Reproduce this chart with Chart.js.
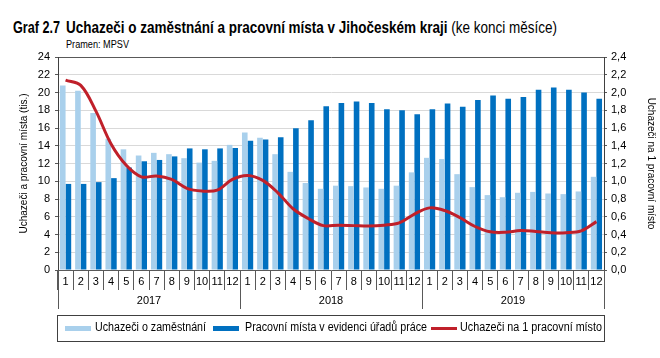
<!DOCTYPE html>
<html><head><meta charset="utf-8">
<script src="https://cdn.jsdelivr.net/npm/chart.js@4"></script>
<style>
html,body{margin:0;padding:0;background:#fff;}
body{width:660px;height:358px;position:relative;overflow:hidden;font-family:'Liberation Sans',Arial,sans-serif;}
#c{position:absolute;left:0;top:0;}
.t{position:absolute;white-space:nowrap;color:#000;line-height:1;transform-origin:0 0;}
#legend{position:absolute;left:57px;top:315px;width:548px;height:27px;border:1px solid #404040;box-sizing:border-box;}
.sw{position:absolute;}
</style></head><body>
<div class="t" id="t1" data-w="47" style="left:13px;top:20px;font-size:16px;"><b>Graf 2.7</b></div>
<div class="t" id="t2" data-w="491" style="left:66px;top:20px;font-size:16px;"><b>Uchazeči o zaměstnání a pracovní místa v Jihočeském kraji</b> (ke konci měsíce)</div>
<div class="t" id="t3" data-w="63" style="left:66px;top:38.5px;font-size:10.5px;">Pramen: MPSV</div>
<canvas id="c" width="660" height="358"></canvas>
<div class="sw" style="left:65px;top:326px;width:26px;height:5px;background:#a9d0ec;"></div>
<div class="t" data-w="111" style="left:95px;top:321px;font-size:12px;">Uchazeči o zaměstnání</div>
<div class="sw" style="left:213px;top:326px;width:26px;height:5px;background:#0070c0;"></div>
<div class="t" data-w="182" style="left:244.5px;top:321px;font-size:12px;">Pracovní místa v evidenci úřadů práce</div>
<div class="sw" style="left:431px;top:327px;width:26px;height:3px;background:#c0202a;"></div>
<div class="t" data-w="142" style="left:460px;top:321px;font-size:12px;">Uchazeči na 1 pracovní místo</div>
<div id="legend"></div>
<script>
const years = ['2017','2018','2019'];
const months = ['1','2','3','4','5','6','7','8','9','10','11','12'];
const seekers = [20.8,20.2,17.7,14.8,13.6,12.9,13.2,13.05,12.6,12.1,12.3,14.1,
                 15.5,14.9,13.05,11.06,9.8,9.15,9.5,9.45,9.3,9.15,9.5,11.0,
                 12.64,12.5,10.8,9.34,8.44,8.2,8.7,8.8,8.62,8.55,8.85,10.5];
const vacancies = [9.7,9.7,9.9,10.35,11.55,12.25,12.4,12.8,13.7,13.6,13.7,13.75,
                   14.55,14.7,14.96,15.97,16.87,18.45,18.82,19.0,18.82,18.1,18.0,17.55,
                   18.1,18.75,18.4,19.16,19.65,19.3,19.5,20.3,20.55,20.3,20.0,19.3];
const ratio = [2.14,2.08,1.79,1.42,1.18,1.05,1.06,1.02,0.92,0.89,0.90,1.02,
               1.065,1.01,0.87,0.69,0.58,0.50,0.505,0.50,0.495,0.505,0.53,0.63,
               0.70,0.67,0.59,0.49,0.43,0.425,0.445,0.435,0.42,0.42,0.44,0.545];
const labels = [];
years.forEach(y => months.forEach(m => labels.push(m)));

document.querySelectorAll('.t[data-w]').forEach(el => {
  const w = el.getBoundingClientRect().width;
  el.style.transform = 'scaleX(' + (parseFloat(el.dataset.w) / w) + ')';
});

const FONT = "'Liberation Sans',Arial,sans-serif";
Chart.defaults.font.family = FONT;
Chart.defaults.font.size = 11;
Chart.defaults.color = '#000';

const yearPlugin = {
  id: 'years',
  afterDraw(chart) {
    const x = chart.scales.x, ctx = chart.ctx, b = chart.chartArea.bottom;
    ctx.save();
    ctx.strokeStyle = '#595959';
    ctx.lineWidth = 1;
    for (let i = 0; i <= years.length; i++) {
      const px = Math.round(x.getPixelForValue(i * 12 - 0.5)) + 0.5;
      ctx.beginPath(); ctx.moveTo(px, b); ctx.lineTo(px, b + 39); ctx.stroke();
    }
    ctx.fillStyle = '#000';
    ctx.font = '11px ' + FONT;
    ctx.textAlign = 'center'; ctx.textBaseline = 'middle';
    years.forEach((y, i) => {
      ctx.fillText(y, x.getPixelForValue(i * 12 + 5.5), b + 31);
    });
    ctx.restore();
  }
};

new Chart(document.getElementById('c'), {
  data: {
    labels: labels,
    datasets: [
      {type:'line', label:'Uchazeči na 1 pracovní místo', data: ratio, yAxisID:'y1',
       borderColor:'#c0202a', borderWidth:3, pointRadius:0, tension:0.35, order:0},
      {type:'bar', label:'Uchazeči o zaměstnání', data: seekers, yAxisID:'y',
       backgroundColor:'#a9d0ec', categoryPercentage:0.74, barPercentage:1.0, order:1},
      {type:'bar', label:'Pracovní místa v evidenci úřadů práce', data: vacancies, yAxisID:'y',
       backgroundColor:'#0070c0', categoryPercentage:0.74, barPercentage:1.0, order:1}
    ]
  },
  options: {
    responsive:false, animation:false,
    layout:{padding:{top:57,left:0,right:0,bottom:48}},
    plugins:{legend:{display:false}, tooltip:{enabled:false}},
    scales:{
      x:{
        offset:true,
        grid:{offset:true, drawOnChartArea:false, tickLength:20, color:'#595959', tickColor:'#595959'},
        border:{display:true, color:'#595959'},
        ticks:{padding:-15, maxRotation:0, autoSkip:false, font:{size:11}},
        afterFit(s){ s.height = 40; }
      },
      y:{
        position:'left', min:0, max:24,
        ticks:{stepSize:2, padding:5, font:{size:11}},
        grid:{color:(c)=> c.tick && c.tick.value===24 ? '#595959' : '#d9d9d9', tickLength:3, tickColor:'#595959'},
        border:{display:true, color:'#404040'},
        title:{display:true, text:'Uchazeči a pracovní místa (tis.)', font:{size:10}, padding:{top:18,bottom:0}},
        afterFit(s){ s.width = 58; }
      },
      y1:{
        position:'right', min:0, max:2.4,
        ticks:{stepSize:0.2, padding:4, font:{size:11},
               callback:(v)=> v.toFixed(1).replace('.', ',')},
        grid:{drawOnChartArea:false, tickLength:3, tickColor:'#595959'},
        border:{display:true, color:'#404040'},
        title:{display:true, text:'Uchazeči na 1 pracovní místo', font:{size:10}, padding:{top:3,bottom:0}},
        afterFit(s){ s.width = 56; }
      }
    }
  },
  plugins:[yearPlugin]
});
</script>
</body></html>
